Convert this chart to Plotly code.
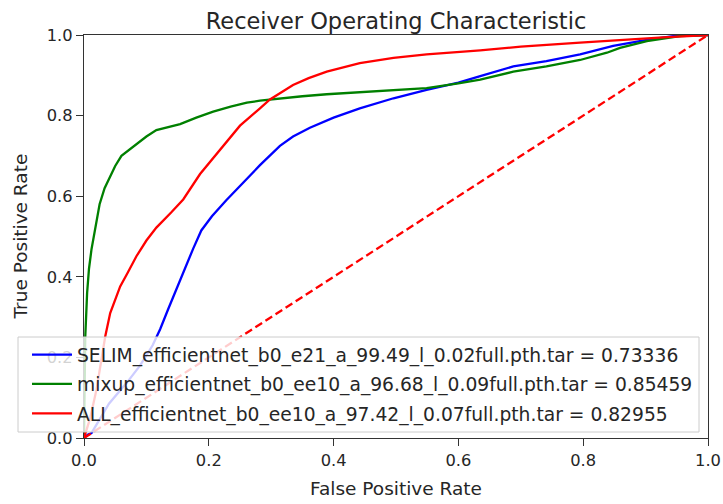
import plotly.graph_objects as go

# ---- data ----
selim_fpr = [0, 0.006, 0.012, 0.04, 0.07, 0.09, 0.11, 0.122, 0.135, 0.148, 0.162, 0.175, 0.188, 0.205,
             0.228, 0.25, 0.282, 0.314, 0.335, 0.362, 0.40, 0.442, 0.496, 0.549, 0.60, 0.635, 0.688, 0.741,
             0.795, 0.848, 0.902, 0.944, 1.0]
selim_tpr = [0, 0.008, 0.012, 0.085, 0.14, 0.18, 0.23, 0.27, 0.32, 0.37, 0.42, 0.47, 0.515, 0.55,
             0.59, 0.625, 0.677, 0.725, 0.748, 0.770, 0.795, 0.818, 0.843, 0.864, 0.882, 0.898, 0.922, 0.935,
             0.952, 0.973, 0.988, 0.997, 1.0]

mixup_fpr = [0, 0.001, 0.002, 0.005, 0.008, 0.012, 0.018, 0.025, 0.033, 0.042, 0.05, 0.06, 0.072,
             0.084, 0.10, 0.116, 0.135, 0.154, 0.18, 0.207, 0.235, 0.261, 0.282, 0.314, 0.35, 0.389,
             0.44, 0.496, 0.549, 0.60, 0.635, 0.688, 0.741, 0.795, 0.838, 0.859, 0.902, 0.955, 1.0]
mixup_tpr = [0, 0.15, 0.25, 0.36, 0.42, 0.468, 0.52, 0.58, 0.62, 0.65, 0.675, 0.70, 0.715,
             0.729, 0.748, 0.764, 0.772, 0.779, 0.795, 0.81, 0.822, 0.832, 0.837, 0.843, 0.848, 0.853,
             0.858, 0.864, 0.868, 0.880, 0.889, 0.909, 0.922, 0.938, 0.956, 0.968, 0.985, 0.997, 1.0]

all_fpr = [0, 0.01, 0.02, 0.028, 0.034, 0.042, 0.05, 0.058, 0.07, 0.084, 0.10, 0.116, 0.14, 0.159,
           0.186, 0.213, 0.25, 0.282, 0.298, 0.335, 0.36, 0.389, 0.442, 0.496, 0.549, 0.635, 0.70,
           0.795, 0.87, 0.928, 1.0]
all_tpr = [0, 0.05, 0.12, 0.19, 0.252, 0.31, 0.345, 0.376, 0.41, 0.451, 0.49, 0.522, 0.56, 0.592,
           0.655, 0.705, 0.775, 0.818, 0.84, 0.876, 0.893, 0.909, 0.93, 0.943, 0.952, 0.962, 0.971,
           0.981, 0.989, 0.994, 1.0]

chance_x = [0, 1]
chance_y = [0, 1]

names = [
    "SELIM_efficientnet_b0_e21_a_99.49_l_0.02full.pth.tar = 0.73336",
    "mixup_efficientnet_b0_ee10_a_96.68_l_0.09full.pth.tar = 0.85459",
    "ALL_efficientnet_b0_ee10_a_97.42_l_0.07full.pth.tar = 0.82955",
]
colors = ["#0000ff", "#008000", "#ff0000"]
tick_vals = [0, 0.2, 0.4, 0.6, 0.8, 1.0]
tick_text = ["0.0", "0.2", "0.4", "0.6", "0.8", "1.0"]

FONT = "DejaVu Sans"
TXT = "#262626"

W, H = 723, 504
ML, MR, MT, MB = 84, 15, 35, 66
PW, PH = W - ML - MR, H - MT - MB

fig = go.Figure()
for i, (fx, ty, nm, c) in enumerate(zip([selim_fpr, mixup_fpr, all_fpr],
                                        [selim_tpr, mixup_tpr, all_tpr], names, colors)):
    fig.add_trace(go.Scatter(x=fx, y=ty, mode="lines", name=nm, legendgroup=f"g{i}",
                             line=dict(color=c, width=2.3)))
fig.add_trace(go.Scatter(x=chance_x, y=chance_y, mode="lines", showlegend=False,
                         line=dict(color="#ff0000", width=2.3, dash="8px,4px")))

axis_common = dict(range=[0, 1], showgrid=False, zeroline=False, showline=True,
                   linecolor="#333333", linewidth=1.3, mirror=True, ticks="outside",
                   ticklen=7, tickwidth=1.3, tickcolor="#333333",
                   tickvals=tick_vals, ticktext=tick_text,
                   tickfont=dict(family=FONT, size=16.3, color=TXT))

# legend frame (semi-transparent, like matplotlib's framealpha=0.8)
bx0, bx1, by0, by1 = 18, 699, 337, 432
fig.add_shape(type="rect", xref="paper", yref="paper", layer="above",
              x0=(bx0 - ML) / PW, x1=(bx1 - ML) / PW,
              y0=(MT + PH - by1) / PH, y1=(MT + PH - by0) / PH,
              fillcolor="rgba(255,255,255,0.8)", line=dict(color="#cccccc", width=1))

# y-axis title
fig.add_annotation(text="True Positive Rate", textangle=-90, showarrow=False,
                   xref="paper", yref="paper", x=(20 - ML) / PW, y=0.5,
                   xanchor="center", yanchor="middle",
                   font=dict(family=FONT, size=18.5, color=TXT))

fig.update_layout(
    width=W, height=H,
    margin=dict(l=ML, r=MR, t=MT, b=MB, autoexpand=False),
    plot_bgcolor="white", paper_bgcolor="white",
    font=dict(family=FONT, size=17, color=TXT),
    title=dict(text="Receiver Operating Characteristic", x=0.5, xref="paper", xanchor="center",
               y=1, yref="paper", yanchor="bottom", pad=dict(b=6),
               font=dict(family=FONT, size=22.5, color=TXT)),
    xaxis=dict(**axis_common, title=dict(text="False Positive Rate", standoff=13,
                                         font=dict(family=FONT, size=18.5, color=TXT))),
    yaxis=dict(**axis_common),
    legend=dict(x=27 / W, y=(H - 336) / H, xref="container", yref="container",
                xanchor="left", yanchor="top", tracegroupgap=2,
                bgcolor="rgba(0,0,0,0)", borderwidth=0,
                font=dict(family=FONT, size=18.7, color=TXT), itemwidth=40),
    showlegend=True,
)

fig.write_html("out.html")
